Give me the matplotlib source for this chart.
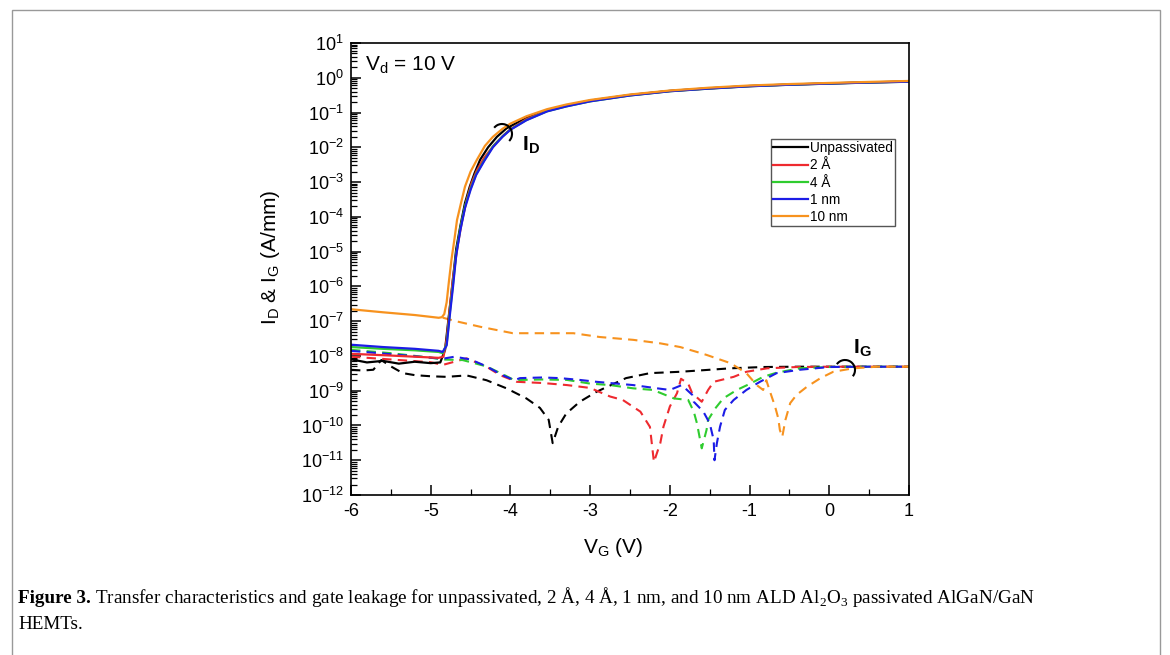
import numpy as np
import matplotlib
matplotlib.use('Agg')
import matplotlib.pyplot as plt
from matplotlib.patches import Arc, Rectangle
from matplotlib.ticker import LogLocator, AutoMinorLocator, NullFormatter

''' Data read off the figure '''
# Drain current I_D (solid lines), A/mm
vg_id_unpass = [-6.0, -5.8, -5.6, -5.4, -5.2, -5.0, -4.88, -4.82, -4.78, -4.74, -4.68, -4.63,
                -4.57, -4.51, -4.45, -4.38, -4.28, -4.17, -4.05, -3.97, -3.8, -3.54, -3.3,
                -3.0, -2.5, -2.0, -1.5, -1.0, -0.5, 0.0, 0.5, 1.0]
id_unpass = [8.0e-9, 6.5e-9, 7.2e-9, 6.0e-9, 6.8e-9, 6.2e-9, 6.5e-9, 1.5e-8, 1.0e-7, 6.3e-7,
             1.2e-5, 5.2e-5, 2.5e-4, 7.4e-4, 1.8e-3, 4.4e-3, 1.0e-2, 2.0e-2, 3.5e-2, 4.4e-2,
             7.0e-2, 1.17e-1, 1.6e-1, 2.2e-1, 3.2e-1, 4.2e-1, 5.0e-1, 5.8e-1, 6.4e-1, 6.9e-1,
             7.4e-1, 7.8e-1]

vg_id_2a = [-6.0, -5.6, -5.2, -4.9, -4.84, -4.80, -4.76, -4.72, -4.66, -4.61, -4.55, -4.49,
            -4.42, -4.33, -4.2, -4.08, -4.0, -3.8, -3.54, -3.3, -3.0, -2.5, -2.0, -1.5, -1.0,
            -0.5, 0.0, 0.5, 1.0]
id_2a = [1.15e-8, 1.05e-8, 9.5e-9, 8.8e-9, 9.5e-9, 3.0e-8, 2.5e-7, 1.8e-6, 1.6e-5, 7.0e-5,
         3.0e-4, 9.0e-4, 2.2e-3, 5.0e-3, 1.2e-2, 2.3e-2, 3.3e-2, 6.5e-2, 1.12e-1, 1.55e-1,
         2.15e-1, 3.15e-1, 4.15e-1, 4.95e-1, 5.75e-1, 6.35e-1, 6.85e-1, 7.35e-1, 7.75e-1]

vg_id_4a = [-6.0, -5.6, -5.2, -4.9, -4.85, -4.80, -4.76, -4.72, -4.68, -4.63, -4.57, -4.50,
            -4.43, -4.33, -4.22, -4.10, -4.0, -3.8, -3.54, -3.3, -3.0, -2.5, -2.0, -1.5,
            -1.0, -0.5, 0.0, 0.5, 1.0]
id_4a = [1.8e-8, 1.6e-8, 1.45e-8, 1.3e-8, 1.2e-8, 2.2e-8, 1.8e-7, 1.2e-6, 9.0e-6, 4.5e-5,
         2.0e-4, 6.5e-4, 1.7e-3, 4.2e-3, 1.05e-2, 2.05e-2, 3.25e-2, 6.1e-2, 1.09e-1, 1.5e-1,
         2.1e-1, 3.1e-1, 4.1e-1, 4.9e-1, 5.7e-1, 6.3e-1, 6.8e-1, 7.3e-1, 7.7e-1]

vg_id_1nm = [-6.0, -5.6, -5.2, -4.9, -4.85, -4.80, -4.76, -4.72, -4.68, -4.63, -4.57, -4.50,
             -4.43, -4.33, -4.22, -4.10, -4.0, -3.8, -3.54, -3.3, -3.0, -2.5, -2.0, -1.5,
             -1.0, -0.5, 0.0, 0.5, 1.0]
id_1nm = [2.1e-8, 1.8e-8, 1.6e-8, 1.4e-8, 1.3e-8, 2.0e-8, 1.5e-7, 1.0e-6, 8.0e-6, 4.0e-5,
          1.8e-4, 6.0e-4, 1.6e-3, 4.0e-3, 1.0e-2, 2.0e-2, 3.2e-2, 6.0e-2, 1.08e-1, 1.5e-1,
          2.1e-1, 3.1e-1, 4.1e-1, 4.9e-1, 5.7e-1, 6.3e-1, 6.8e-1, 7.3e-1, 7.7e-1]

vg_id_10nm = [-6.0, -5.6, -5.2, -4.9, -4.86, -4.83, -4.80, -4.77, -4.74, -4.70, -4.67, -4.62,
              -4.57, -4.50, -4.42, -4.32, -4.22, -4.10, -4.0, -3.8, -3.54, -3.3, -3.0, -2.5,
              -2.0, -1.5, -1.0, -0.5, 0.0, 0.5, 1.0]
id_10nm = [2.2e-7, 1.8e-7, 1.5e-7, 1.25e-7, 1.3e-7, 1.6e-7, 3.5e-7, 1.5e-6, 5.8e-6, 2.5e-5,
           8.1e-5, 2.5e-4, 7.4e-4, 2.0e-3, 4.4e-3, 1.1e-2, 2.0e-2, 3.4e-2, 4.8e-2, 7.8e-2,
           1.25e-1, 1.7e-1, 2.3e-1, 3.3e-1, 4.3e-1, 5.2e-1, 6.0e-1, 6.6e-1, 7.1e-1, 7.6e-1,
           8.1e-1]

# Gate leakage I_G (dashed lines), A/mm
vg_ig_unpass = [-6.0, -5.85, -5.72, -5.62, -5.5, -5.35, -5.2, -5.0, -4.8, -4.55, -4.3, -4.05,
                -3.8, -3.63, -3.52, -3.47, -3.40, -3.30, -3.13, -2.92, -2.55, -2.25, -1.87,
                -1.5, -1.24, -0.83, -0.4, 0.0, 0.5, 1.0]
ig_unpass = [4.0e-9, 3.8e-9, 4.0e-9, 7.6e-9, 5.0e-9, 3.2e-9, 2.8e-9, 2.6e-9, 2.5e-9, 2.75e-9,
             2.0e-9, 1.17e-9, 6.0e-10, 3.2e-10, 1.45e-10, 3.1e-11, 9.3e-11, 2.2e-10, 4.8e-10,
             9.3e-10, 2.3e-9, 3.2e-9, 3.5e-9, 4.0e-9, 4.4e-9, 4.8e-9, 4.9e-9, 4.9e-9, 4.9e-9,
             4.9e-9]

vg_ig_2a = [-6.0, -5.5, -5.0, -4.85, -4.55, -4.30, -4.13, -3.92, -3.59, -3.29, -3.0, -2.75,
            -2.59, -2.37, -2.25, -2.20, -2.12, -2.08, -2.0, -1.91, -1.86, -1.77, -1.72, -1.60,
            -1.52, -1.45, -1.20, -1.04, -0.78, -0.4, 0.0, 0.5, 1.0]
ig_2a = [9.5e-9, 7.9e-9, 6.6e-9, 5.5e-9, 8.5e-9, 4.9e-9, 2.8e-9, 1.8e-9, 1.66e-9, 1.45e-9,
         1.2e-9, 6.8e-10, 5.4e-10, 2.5e-10, 9.1e-11, 8.9e-12, 3.1e-11, 9.3e-11, 3.5e-10,
         8.5e-10, 2.2e-9, 1.6e-9, 8.5e-10, 4.8e-10, 1.05e-9, 1.8e-9, 2.5e-9, 3.5e-9, 4.4e-9,
         4.8e-9, 4.9e-9, 4.9e-9, 4.9e-9]

vg_ig_4a = [-6.0, -5.5, -5.0, -4.85, -4.6, -4.3, -4.1, -3.95, -3.88, -3.6, -3.29, -3.0, -2.75,
            -2.46, -2.21, -1.95, -1.77, -1.70, -1.66, -1.62, -1.60, -1.54, -1.52, -1.43,
            -1.33, -1.16, -0.99, -0.83, -0.66, -0.37, 0.0, 0.5, 1.0]
ig_4a = [1.5e-8, 1.2e-8, 8.9e-9, 7.9e-9, 7.6e-9, 5.0e-9, 3.0e-9, 2.0e-9, 2.04e-9, 2.1e-9,
         2.04e-9, 1.6e-9, 1.45e-9, 1.17e-9, 1.05e-9, 6.0e-10, 5.4e-10, 2.5e-10, 1.15e-10,
         3.8e-11, 2.2e-11, 7.4e-11, 1.45e-10, 3.1e-10, 6.0e-10, 1.05e-9, 1.6e-9, 2.5e-9,
         3.3e-9, 4.4e-9, 4.8e-9, 4.9e-9, 4.9e-9]

vg_ig_1nm = [-6.0, -5.5, -5.0, -4.85, -4.7, -4.5, -4.3, -4.1, -3.95, -3.88, -3.6, -3.38,
             -3.13, -2.92, -2.67, -2.46, -2.16, -2.0, -1.85, -1.72, -1.70, -1.58, -1.50,
             -1.45, -1.44, -1.41, -1.37, -1.31, -1.20, -1.04, -0.87, -0.66, -0.37, 0.0,
             0.5, 1.0]
ig_1nm = [1.4e-8, 1.12e-8, 8.9e-9, 8.3e-9, 9.5e-9, 7.9e-9, 5.0e-9, 2.8e-9, 2.0e-9, 2.3e-9,
          2.4e-9, 2.3e-9, 2.04e-9, 1.8e-9, 1.6e-9, 1.45e-9, 1.17e-9, 1.05e-9, 1.45e-9,
          7.6e-10, 4.8e-10, 2.5e-10, 1.15e-10, 3.8e-11, 1.0e-11, 3.1e-11, 9.3e-11, 2.8e-10,
          5.4e-10, 1.05e-9, 1.8e-9, 3.2e-9, 4.0e-9, 4.8e-9, 4.9e-9, 4.9e-9]

vg_ig_10nm = [-4.85, -4.67, -4.38, -3.97, -3.54, -3.21, -2.88, -2.46, -2.12, -1.87, -1.66,
              -1.54, -1.24, -1.04, -0.91, -0.83, -0.79, -0.74, -0.68, -0.64, -0.62, -0.59,
              -0.55, -0.49, -0.41, -0.28, -0.11, 0.05, 0.30, 0.6, 1.0]
ig_10nm = [1.26e-7, 9.8e-8, 6.9e-8, 4.5e-8, 4.5e-8, 4.5e-8, 3.5e-8, 2.9e-8, 2.3e-8, 1.8e-8,
           1.3e-8, 1.07e-8, 6.2e-9, 3.2e-9, 1.45e-9, 1.05e-9, 2.0e-9, 8.9e-10, 3.5e-10,
           1.6e-10, 7.4e-11, 4.7e-11, 1.45e-10, 4.4e-10, 7.6e-10, 1.3e-9, 2.3e-9, 3.5e-9,
           4.4e-9, 4.9e-9, 4.9e-9]

labels = ['Unpassivated', '2 Å', '4 Å', '1 nm', '10 nm']
colors = ['#000000', '#ee2a2f', '#2fcc2f', '#1c1ce6', '#f7921e']

id_series = [(vg_id_unpass, id_unpass), (vg_id_2a, id_2a), (vg_id_4a, id_4a),
             (vg_id_1nm, id_1nm), (vg_id_10nm, id_10nm)]
ig_series = [(vg_ig_unpass, ig_unpass), (vg_ig_2a, ig_2a), (vg_ig_4a, ig_4a),
             (vg_ig_1nm, ig_1nm), (vg_ig_10nm, ig_10nm)]

caption_bold = 'Figure 3.'
caption_rest = ('Transfer characteristics and gate leakage for unpassivated, 2 Å, 4 Å, 1 nm, '
                'and 10 nm ALD Al$_\\mathregular{2}$O$_\\mathregular{3}$ passivated AlGaN/GaN')
caption_line2 = 'HEMTs.'

''' Graphing '''
plt.rcParams['font.family'] = ['Liberation Sans', 'DejaVu Sans']
plt.rcParams['mathtext.fontset'] = 'custom'
plt.rcParams['mathtext.rm'] = 'Liberation Sans'
plt.rcParams['mathtext.bf'] = 'Liberation Sans:bold'
plt.rcParams['axes.unicode_minus'] = False

W, H = 1170, 655
fig = plt.figure(figsize=(W / 100, H / 100), dpi=100)
ax = fig.add_axes([351 / W, 1 - 495 / H, (909 - 351) / W, (495 - 43) / H])

dash = (0, (4.5, 3.0))
for (x, y), c in zip(ig_series, colors):
    ax.plot(x, y, color=c, lw=1.5, linestyle=dash)
handles = []
for (x, y), c, lab in zip(id_series, colors, labels):
    h, = ax.plot(x, y, color=c, lw=1.6, label=lab)
    handles.append(h)

ax.set_yscale('log')
ax.set_xlim(-6, 1)
ax.set_ylim(1e-12, 1e1)
ax.set_xticks(np.arange(-6, 2, 1))
ax.xaxis.set_minor_locator(AutoMinorLocator(2))
ax.yaxis.set_major_locator(LogLocator(base=10, numticks=30))
ax.yaxis.set_minor_locator(LogLocator(base=10, subs=np.arange(2, 10), numticks=200))
ax.yaxis.set_minor_formatter(NullFormatter())

ax.tick_params(which='both', direction='in', top=False, right=False, labelsize=13)
ax.tick_params(which='major', length=7, width=1.1)
ax.tick_params(which='minor', length=4, width=0.9)
ax.tick_params(axis='x', pad=6)
ax.tick_params(axis='y', pad=5)
for s in ax.spines.values():
    s.set_linewidth(1.2)

ax.set_xlabel('V$_\\mathregular{G}$ (V)', fontsize=15, va='center')
ax.xaxis.set_label_coords(0.47, -0.117)
ax.set_ylabel('I$_\\mathregular{D}$ & I$_\\mathregular{G}$ (A/mm)', fontsize=15, va='center')
ax.yaxis.set_label_coords(-0.145, 0.527)

ax.text(14 / 558, 1 - 22 / 452, 'V$_\\mathregular{d}$ = 10 V', transform=ax.transAxes,
        fontsize=15, ha='left', va='center')

leg = ax.legend(handles=handles, loc='upper left', bbox_to_anchor=(0.7527, 0.7876),
                borderaxespad=0, fontsize=9.8, handlelength=2.6, handletextpad=0.1,
                borderpad=0.15, labelspacing=0.24, fancybox=False, framealpha=1)
leg.get_frame().set_edgecolor('#555555')
leg.get_frame().set_linewidth(1.0)

# curve bracket arcs and labels
for cx, cy, t1, t2 in [(502, 134, -60, 125), (845, 370, -55, 128)]:
    fig.add_artist(Arc((cx / W, 1 - cy / H), 20 / W, 20 / H, theta1=t1, theta2=t2,
                       transform=fig.transFigure, lw=1.5, color='k'))
fig.text(522 / W, 1 - 150 / H, 'I$_\\mathregular{D}$', fontsize=15, weight='bold',
         ha='left', va='baseline')
fig.text(853 / W, 1 - 353 / H, 'I$_\\mathregular{G}$', fontsize=15, weight='bold',
         ha='left', va='baseline')

# frame round the figure
fig.add_artist(Rectangle((12 / W, -0.05), (1160 - 12) / W, 1.05 - 10 / H,
                         transform=fig.transFigure, fill=False, edgecolor='#999999', lw=1))

# caption
cap_size = 13.75
cap1 = fig.text(18 / W, 1 - 603 / H, caption_bold, family='Liberation Serif',
                weight='bold', fontsize=cap_size, va='baseline')
fig.canvas.draw()
bb = cap1.get_window_extent()
fig.text((bb.x1 + 4) / W, 1 - 603 / H, caption_rest, family='Liberation Serif',
         fontsize=cap_size, va='baseline')
fig.text(18 / W, 1 - 629 / H, caption_line2, family='Liberation Serif',
         fontsize=cap_size, va='baseline')

fig.savefig('out.png', dpi=100)
